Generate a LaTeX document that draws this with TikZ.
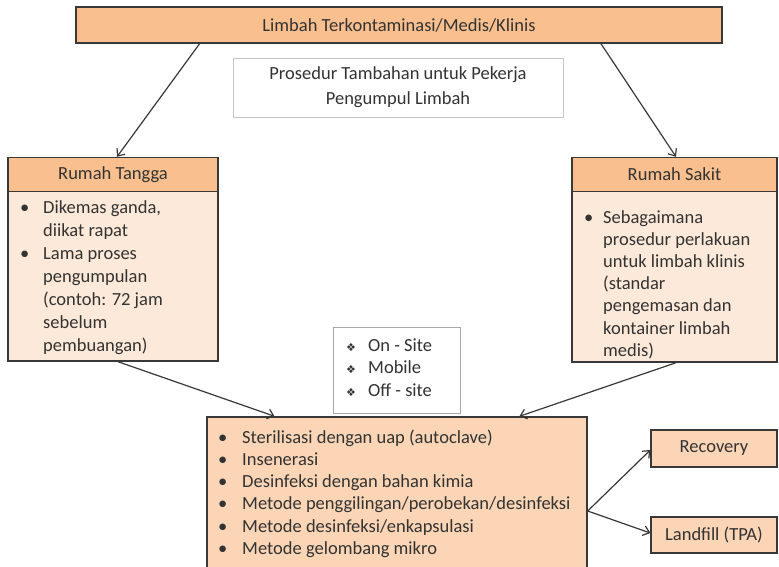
\documentclass[tikz,border=0pt]{standalone}
\usepackage{fontspec}
\setmainfont{Carlito}
\newfontfamily\symfont{DejaVu Sans}
\usetikzlibrary{arrows.meta,calc}
\definecolor{hdr}{HTML}{F9BF8F}
\definecolor{bodyc}{HTML}{FDE9D9}
\definecolor{lowc}{HTML}{FBD5B6}
\definecolor{txt}{HTML}{333333}
\definecolor{edge}{HTML}{383838}
\definecolor{lightedge}{HTML}{C4C4C4}
\definecolor{midedge}{HTML}{A8A8A8}
\newcommand{\bsz}[1]{\fontsize{18.5}{#1}\selectfont}
\tikzset{
  box/.style={draw=edge, line width=1.4pt, inner sep=0pt, text=txt, font=\bsz{22}},
  plainbox/.style={draw=lightedge, line width=1pt, fill=white, inner sep=0pt},
  txtnode/.style={inner sep=0pt, text=txt, anchor=base west, align=left},
  conn/.style={draw=edge, line width=1.2pt, -{Straight Barb[length=6pt,width=10pt,line width=1.2pt]}},
}
\begin{document}
\begin{tikzpicture}[x=1pt,y=-1pt]
\useasboundingbox (0,0) rectangle (779,566);
\clip (0,0) rectangle (779,566);
\fill[white] (0,0) rectangle (779,566);

% top box
\node[box, fill=hdr, minimum width=646pt, minimum height=36pt] (top) at (399,25) {Limbah Terkontaminasi/Medis/Klinis};

% prosedur box
\node[plainbox, minimum width=330pt, minimum height=59pt, text=txt, align=center, font=\bsz{25}] (pros) at (398,87.5) {Prosedur Tambahan untuk Pekerja\\Pengumpul Limbah};

% Rumah Tangga
\node[box, fill=bodyc, minimum width=210pt, minimum height=170pt] (rtb) at (113,276) {};
\node[box, fill=hdr, minimum width=210pt, minimum height=34pt] (rth) at (113,174.5) {Rumah Tangga};
\node[txtnode, font=\bsz{23}] (rtt) at (20,213) {%
\begin{tabular}[t]{@{}p{23pt}@{}l@{}}
\textbullet & Dikemas ganda,\\
 & diikat rapat\\
\textbullet & Lama proses\\
 & pengumpulan\\
 & (contoh: 72 jam\\
 & sebelum\\
 & pembuangan)
\end{tabular}};

% Rumah Sakit
\node[box, fill=bodyc, minimum width=205pt, minimum height=171pt] (rsb) at (674.5,276.5) {};
\node[box, fill=hdr, minimum width=205pt, minimum height=34pt] (rsh) at (674.5,174.5) {Rumah Sakit};
\node[txtnode, font=\bsz{22.2}] (rst) at (584,223) {%
\begin{tabular}[t]{@{}p{19pt}@{}l@{}}
\textbullet & Sebagaimana\\
 & prosedur perlakuan\\
 & untuk limbah klinis\\
 & (standar\\
 & pengemasan dan\\
 & kontainer limbah\\
 & medis)
\end{tabular}};

% on-site box
\node[plainbox, draw=midedge, minimum width=127pt, minimum height=86pt] (site) at (396.5,370) {};
\node[txtnode, font=\bsz{22.5}] (sitet) at (346,351) {%
\begin{tabular}[t]{@{}p{22pt}@{}l@{}}
{\symfont\fontsize{11}{11}\selectfont ❖} & On - Site\\
{\symfont\fontsize{11}{11}\selectfont ❖} & Mobile\\
{\symfont\fontsize{11}{11}\selectfont ❖} & Off - site
\end{tabular}};

% bottom box
\node[box, fill=lowc, minimum width=380pt, minimum height=170pt] (bot) at (397,502) {};
\node[txtnode, font=\bsz{22.3}] (bott) at (218,443) {%
\begin{tabular}[t]{@{}p{24pt}@{}l@{}}
\textbullet & Sterilisasi dengan uap (autoclave)\\
\textbullet & Insenerasi\\
\textbullet & Desinfeksi dengan bahan kimia\\
\textbullet & Metode penggilingan/perobekan/desinfeksi\\
\textbullet & Metode desinfeksi/enkapsulasi\\
\textbullet & Metode gelombang mikro
\end{tabular}};

% recovery / landfill
\node[box, fill=lowc, minimum width=126pt, minimum height=37pt] (rec) at (714,448.5) {Recovery};
\node[box, fill=lowc, minimum width=126pt, minimum height=36pt] (land) at (714,535) {Landfill (TPA)};

% connectors
\coordinate (split) at ([yshift=-9pt]bot.east);
\draw[conn] ($(top.south west)!0.192!(top.south east)$) -- ([xshift=4pt]rth.north);
\draw[conn] ($(top.south west)!0.812!(top.south east)$) -- ([xshift=1.5pt]rsh.north);
\draw[conn] ([xshift=5pt]rtb.south) -- ($(bot.north west)!0.179!(bot.north east)$);
\draw[conn] ([xshift=1.5pt]rsb.south) -- ($(bot.north west)!0.821!(bot.north east)$);
\draw[conn] (split) -- ([yshift=-1.5pt]rec.west);
\draw[conn] (split) -- ([yshift=2pt]land.west);
\end{tikzpicture}
\end{document}
